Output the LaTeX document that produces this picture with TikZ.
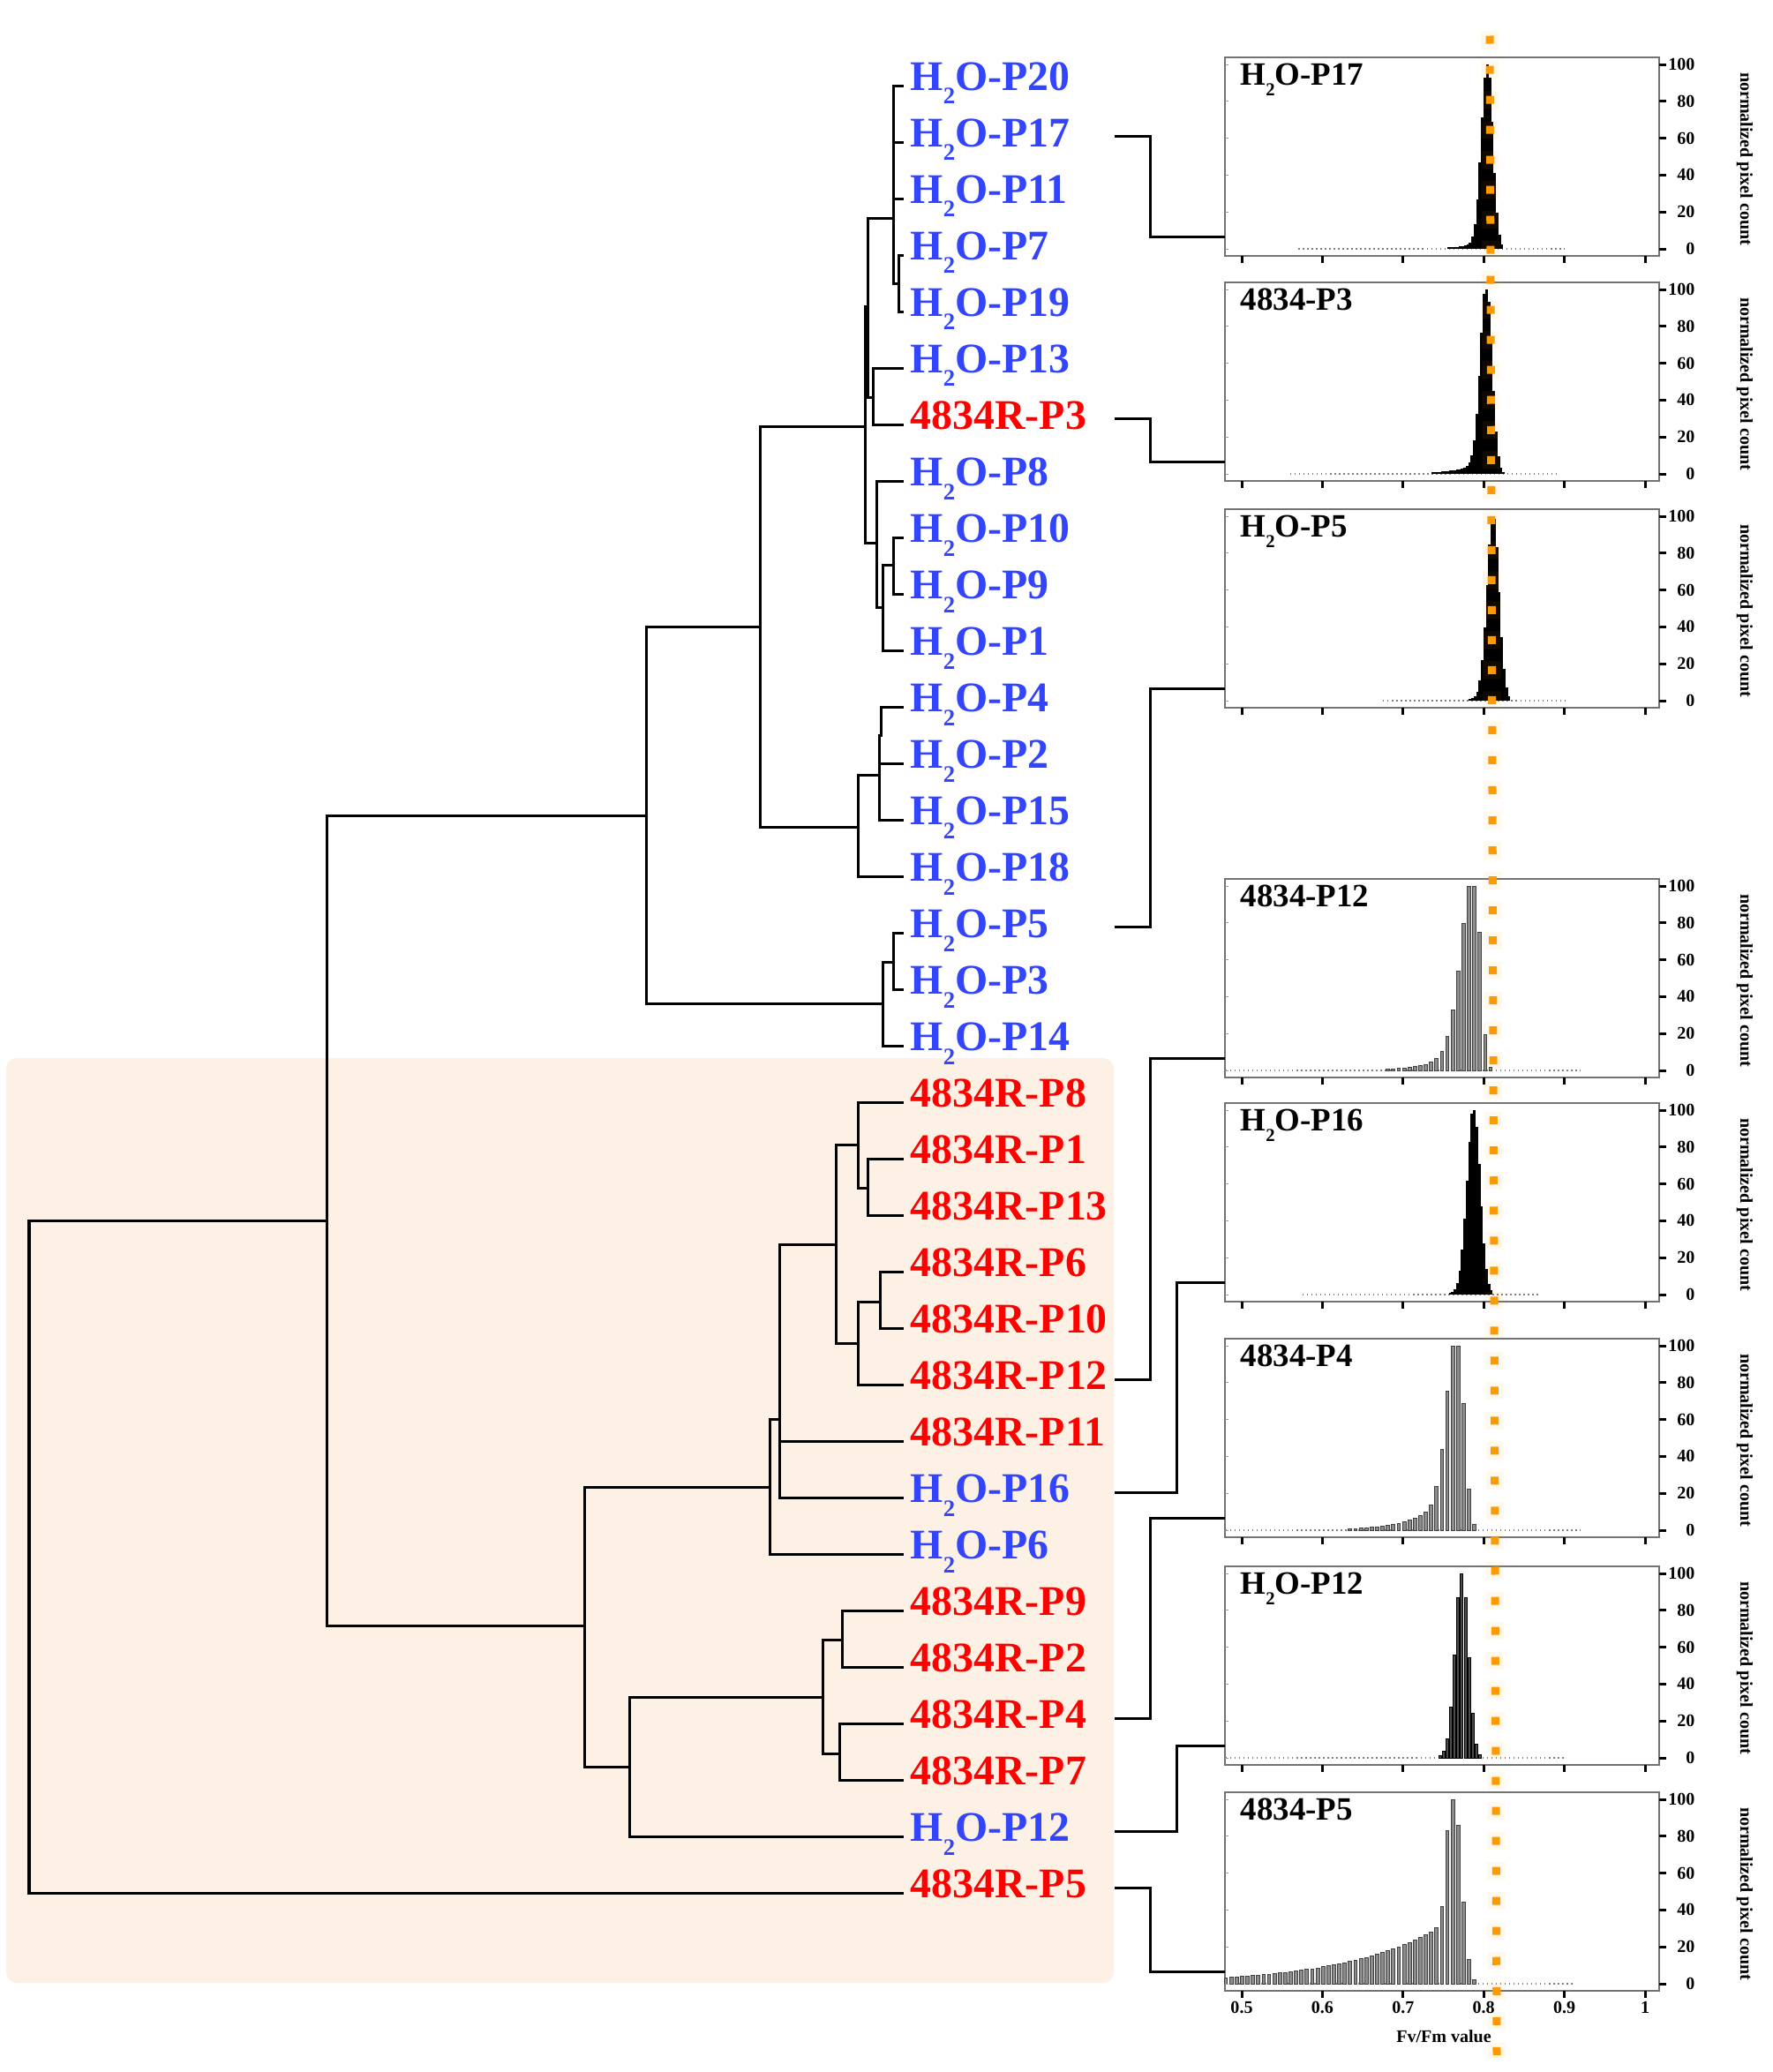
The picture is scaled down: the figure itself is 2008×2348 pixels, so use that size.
\documentclass[tikz,border=0pt]{standalone}
\usepackage{graphicx}
\usepackage{fontspec}
\setmainfont{Liberation Serif}
\usepackage{tikz}
\usetikzlibrary{calc}
\usepackage{xcolor}
\definecolor{colw}   {RGB}{51,  68, 255}
\definecolor{colr}   {RGB}{255,  0,   0}
\definecolor{Peach}  {RGB}{253,240, 228}
\definecolor{Mark}   {RGB}{255,153,   0}

\newcommand{\htwo}{H\raisebox{-0.33em}{\scalebox{0.56}{2}}O}
\newcommand{\prew}{\htwo}
\newcommand{\prer}{4834R}

\tikzset{
  branch/.style={line width=0.03cm, line cap=rect},
  link/.style={line width=0.03cm},
  lbl/.style={font=\fontsize{13.6}{16}\selectfont\bfseries, inner sep=0pt,
              text height=0.33cm, text depth=0.1cm},
  ttl/.style={font=\fontsize{10.5}{12}\selectfont\bfseries, inner sep=0pt},
  tck/.style={font=\fontsize{5.7}{7}\selectfont\bfseries, inner sep=0pt},
  frm/.style={draw=black!55, line width=0.015cm},
  bar-k/.style={fill=black},
  bar-g/.style={fill=black!45, draw=black!75, line width=0.1pt},
  bar-d/.style={fill=black!70, draw=black, line width=0.1pt},
}

\begin{document}
\begin{tikzpicture}[x=0.01cm, y=-0.01cm]
\useasboundingbox (0,0) rectangle (2008,2348);

% shaded group of the tree
\fill[Peach, rounded corners=0.12cm] (7,1199) rectangle (1262,2247);

% leaves
\foreach \ty/\n [count=\i from 0] in {w/20,w/17,w/11,w/7,w/19,w/13,r/3,w/8,w/10,w/9,w/1,
    w/4,w/2,w/15,w/18,w/5,w/3,w/14,r/8,r/1,r/13,r/6,r/10,r/12,r/11,w/16,w/6,
    r/9,r/2,r/4,r/7,w/12,r/5}{
  \pgfmathsetmacro\yy{97+64.03*\i}
  \coordinate (\ty\n-e) at (1022,\yy);
  \node[lbl, text=col\ty, anchor=base west] (\ty\n) at (1031,\yy+5)
    {\csname pre\ty\endcsname-P\n};
}

% inner nodes
\coordinate (A)   at (1012,247);
\coordinate (A1)  at (1018,321);
\coordinate (B)   at (983,347);
\coordinate (C13) at (989,450);
\coordinate (C)   at (980,483);
\coordinate (D)   at (1012,640);
\coordinate (E)   at (1000,688);
\coordinate (F)   at (993,615);
\coordinate (G4)  at (998,833);
\coordinate (G)   at (996,878);
\coordinate (H)   at (972,937);
\coordinate (P)   at (861,710);
\coordinate (I1)  at (1012,1090);
\coordinate (I)   at (1000,1137);
\coordinate (Q)   at (732,924);
\coordinate (J)   at (983,1346);
\coordinate (K)   at (972,1297);
\coordinate (L)   at (997,1475);
\coordinate (M)   at (972,1522);
\coordinate (N)   at (947,1410);
\coordinate (O)   at (883,1608);
\coordinate (O2)  at (872,1685);
\coordinate (S1)  at (954,1858);
\coordinate (S2)  at (951,1987);
\coordinate (S)   at (932,1923);
\coordinate (T)   at (713,2002);
\coordinate (R)   at (662,1842);
\coordinate (U)   at (370,1383);
\coordinate (root) at (33,1383);

\foreach \p/\c in {A/w20-e,A/w17-e,A/w11-e,A/A1,A1/w7-e,A1/w19-e,B/A,B/C13,
    C13/w13-e,C13/r3-e,C/B,C/F,F/w8-e,F/E,E/D,E/w1-e,D/w10-e,D/w9-e,
    G4/w4-e,G/G4,G/w2-e,G/w15-e,H/G,H/w18-e,P/C,P/H,I1/w5-e,I1/w3-e,
    I/I1,I/w14-e,Q/P,Q/I,J/r1-e,J/r13-e,K/r8-e,K/J,L/r6-e,L/r10-e,
    M/L,M/r12-e,N/K,N/M,O/N,O/r11-e,O/w16-e,O2/O,O2/w6-e,
    S1/r9-e,S1/r2-e,S2/r4-e,S2/r7-e,S/S1,S/S2,T/S,T/w12-e,
    R/O2,R/T,U/Q,U/R,root/U,root/r5-e}
  \draw[branch] (\p) |- (\c);

% histogram panels
\foreach \pn/\bt/\ttl/\mu/\sl/\sr/\ta/\tl/\va/\vb/\bs/\st/\hw in {
    hw17/290/\htwo-P17/0.805/0.0105/0.009/4/0.03/0.57/0.90/k/0.003/1.6,
    hr3/545/4834-P3/0.804/0.011/0.0095/8/0.03/0.56/0.89/k/0.003/1.6,
    hw5/802/\htwo-P5/0.812/0.011/0.010/2/0.03/0.675/0.905/k/0.003/1.6,
    hr12/1221/4834-P12/0.790/0.024/0.009/20/0.035/0.48/0.92/g/0.0067/1.9,
    hw16/1475/\htwo-P16/0.788/0.012/0.011/3/0.02/0.575/0.87/k/0.003/1.6,
    hr4/1742/4834-P4/0.768/0.018/0.011/25/0.04/0.48/0.92/g/0.0067/1.9,
    hw12/2000/\htwo-P12/0.773/0.012/0.011/3/0.02/0.48/0.90/d/0.0045/1.5,
    hr5/2256/4834-P5/0.763/0.010/0.013/35.8/0.12/0.48/0.91/g/0.0067/1.9}{
  \pgfmathsetmacro\yz{\bt-8}
  \pgfmathsetmacro\tp{\bt-225}
  \pgfmathtruncatemacro\nb{(\vb-\va)/\st}
  \coordinate (\pn) at (1388,\bt-22);
  \draw[frm] (1388,\tp) rectangle (1880,\bt);
  \draw[black!50, line width=0.015cm, densely dotted]
    ({1407+914*(\va-0.5)},\yz) -- ({1407+914*(\vb-0.5)},\yz);
  \foreach \j in {0,...,\nb}{
    \pgfmathsetmacro\vv{\va+\st*\j}
    \pgfmathsetmacro\za{(\vv-\mu)/\sl}
    \pgfmathsetmacro\zb{(\vv-\mu)/\sr}
    \pgfmathsetmacro\ea{exp(-min(9,\za*\za))}
    \pgfmathsetmacro\eb{exp(-min(9,\zb*\zb))}
    \pgfmathsetmacro\et{exp(max(-9,min(0,(\vv-\mu)/\tl)))}
    \pgfmathsetmacro\hh{\vv<\mu ? 100*\ea+\ta*\et : 100*\eb}
    \pgfmathsetmacro\hh{min(100,\hh)}
    \ifdim\hh pt>0.8pt
      \path[bar-\bs] ({1407+914*(\vv-0.5)-\hw},\yz) rectangle ++(2*\hw,-2.09*\hh);
    \fi
  }
  \node[ttl, anchor=base west] (t-\pn) at (1405,\tp+31) {\ttl};
  \foreach \xk in {0,...,5}
    \draw[line width=0.03cm] (1407+91.4*\xk,\bt) -- ++(0,8);
  \foreach \q in {0,20,...,100}{
    \draw[line width=0.03cm] (1880,\yz-2.09*\q) -- ++(8,0);
    \draw[black!40, line width=0.01cm] (1388,\yz-2.09*\q) -- ++(4,0);
    \node[tck, anchor=east] (y\q-\pn) at (1921,\yz-2.09*\q) {\q};
  }
  \node[tck, rotate=-90] (n-\pn) at (1977,\bt-110) {normalized pixel count};
}

\foreach \xl [count=\xk from 0] in {0.5,0.6,0.7,0.8,0.9,1}
  \node[tck] (xt\xk) at (1407+91.4*\xk,2275) {\xl};
\node[tck] (xname) at (1636,2308) {Fv/Fm value};

% links from leaves to panels
\coordinate (cx) at (1263,0);
\coordinate (ex1) at (1303,0);
\coordinate (ex2) at (1333,0);
\foreach \lb/\ex/\pn in {w17/ex1/hw17, r3/ex1/hr3, w5/ex1/hw5, r12/ex1/hr12,
    w16/ex2/hw16, r4/ex1/hr4, w12/ex2/hw12, r5/ex1/hr5}
  \draw[link] (\lb.east -| cx) -- (\lb.east -| \ex) |- (\pn);

% reference line
\draw[Mark, opacity=0.07, line width=0.2cm, dash pattern=on 0.2cm off 0.14cm]
  (1688,35) -- (1696,2333);
\draw[Mark, line width=0.09cm, dash pattern=on 0.09cm off 0.25cm]
  (1688,40.5) -- (1696,2330);
\end{tikzpicture}
\end{document}
